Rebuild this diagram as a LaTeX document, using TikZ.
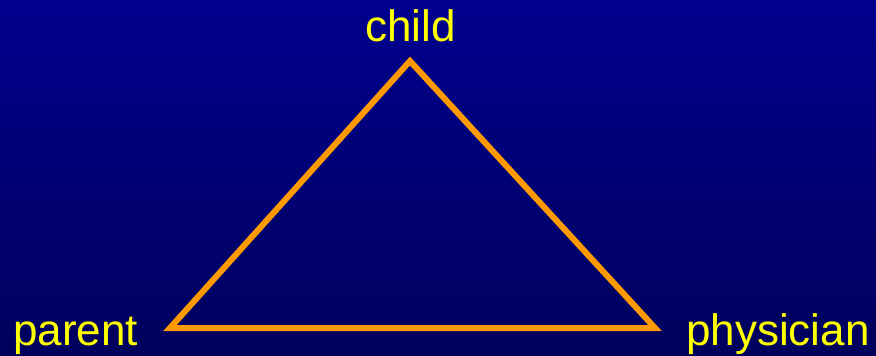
\documentclass[tikz,border=0pt]{standalone}
\usepackage{fontspec}
\setmainfont{Liberation Sans}
\definecolor{bgtop}{RGB}{0,0,142}
\definecolor{bgbot}{RGB}{0,0,92}
\definecolor{tri}{RGB}{255,153,0}
\definecolor{lbl}{RGB}{255,255,0}
\tikzset{
  lab/.style={text=lbl, font=\fontsize{44}{50}\selectfont, inner sep=0pt, anchor=base},
  edge/.style={draw=tri, line width=6pt, line join=miter}
}
\begin{document}
\begin{tikzpicture}[x=1pt,y=-1pt]
\shade[top color=bgtop, bottom color=bgbot] (0,0) rectangle (876,356);
\useasboundingbox (0,0) rectangle (876,356);
\coordinate (c) at (410,61);
\coordinate (p) at (170,328);
\coordinate (h) at (655,328);
\draw[edge] (c) -- (p) -- (h) -- cycle;
\node[lab] (child) at (410.5,41) {child};
\node[lab, anchor=base west] (parent) at (13,345) {parent};
\node[lab, anchor=base west] (physician) at (686,345) {physician};
\end{tikzpicture}
\end{document}
